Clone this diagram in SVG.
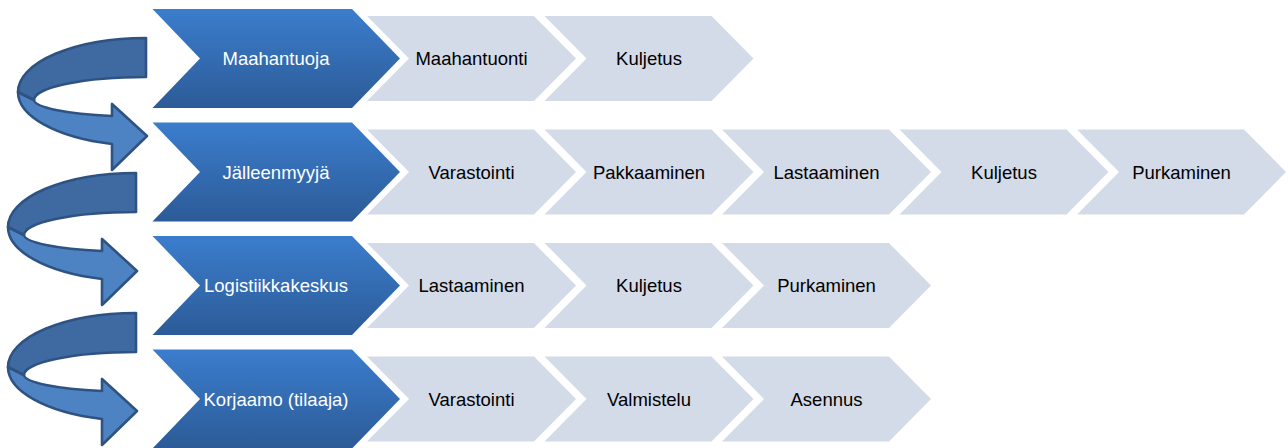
<svg xmlns="http://www.w3.org/2000/svg" width="1288" height="448" viewBox="0 0 1288 448">
<defs>
<linearGradient id="gb" x1="0" y1="0" x2="0" y2="1">
<stop offset="0" stop-color="#3b7dcd"/>
<stop offset="1" stop-color="#2c5b97"/>
</linearGradient>
<g id="uarrow">
<path class="lo" d="M18,92 A128,54 0 0 0 112,144 L112,170 L147,136 L112,104 L112,116 A112,17 0 0 1 34,100 Z"/>
<path class="up" d="M146,38 A128,54 0 0 0 18,92 L34,100 A112,23 0 0 1 146,77 Z"/>
</g>
</defs>
<style>
.main{fill:url(#gb)}
.step{fill:#d3dae8}
.tw{font-family:"Liberation Sans",Arial,sans-serif;font-size:18.5px;fill:#ffffff;text-anchor:middle}
.tb{font-family:"Liberation Sans",Arial,sans-serif;font-size:18.5px;fill:#000000;text-anchor:middle}
.lo{fill:#4d82c3;stroke:#2e5383;stroke-width:2.6;stroke-linejoin:round}
.up{fill:#3e6aa1;stroke:#2e5383;stroke-width:2.6;stroke-linejoin:round}
</style>
<rect width="1288" height="448" fill="#ffffff"/>
<g id="connectors">
<use href="#uarrow"/>
<use href="#uarrow" transform="translate(-10,135)"/>
<use href="#uarrow" transform="translate(-10,275)"/>
</g>
<g id="row1">
<g id="n-maahantuoja"><path class="main" d="M152.5,9 L352,9 L400,58.5 L352,108 L152.5,108 L200,58.5 Z"/><text class="tw" x="276" y="65">Maahantuoja</text></g>
<g id="n-r1-1"><path class="step" d="M367,16 L534,16 L576,58.5 L534,101 L367,101 L409,58.5 Z"/><text class="tb" x="471.5" y="65">Maahantuonti</text></g>
<g id="n-r1-2"><path class="step" d="M544.5,16 L711.5,16 L753.5,58.5 L711.5,101 L544.5,101 L586.5,58.5 Z"/><text class="tb" x="649" y="65">Kuljetus</text></g>
</g>
<g id="row2">
<g id="n-jalleenmyyja"><path class="main" d="M152.5,122.5 L352,122.5 L400,172 L352,221.5 L152.5,221.5 L200,172 Z"/><text class="tw" x="276" y="178.5">Jälleenmyyjä</text></g>
<g id="n-r2-1"><path class="step" d="M367,129.5 L534,129.5 L576,172 L534,214.5 L367,214.5 L409,172 Z"/><text class="tb" x="471.5" y="178.5">Varastointi</text></g>
<g id="n-r2-2"><path class="step" d="M544.5,129.5 L711.5,129.5 L753.5,172 L711.5,214.5 L544.5,214.5 L586.5,172 Z"/><text class="tb" x="649" y="178.5">Pakkaaminen</text></g>
<g id="n-r2-3"><path class="step" d="M722,129.5 L889,129.5 L931,172 L889,214.5 L722,214.5 L764,172 Z"/><text class="tb" x="826.5" y="178.5">Lastaaminen</text></g>
<g id="n-r2-4"><path class="step" d="M899.5,129.5 L1066.5,129.5 L1108.5,172 L1066.5,214.5 L899.5,214.5 L941.5,172 Z"/><text class="tb" x="1004" y="178.5">Kuljetus</text></g>
<g id="n-r2-5"><path class="step" d="M1077,129.5 L1244,129.5 L1286,172 L1244,214.5 L1077,214.5 L1119,172 Z"/><text class="tb" x="1181.5" y="178.5">Purkaminen</text></g>
</g>
<g id="row3">
<g id="n-logistiikkakeskus"><path class="main" d="M152.5,236 L352,236 L400,285.5 L352,335 L152.5,335 L200,285.5 Z"/><text class="tw" x="276" y="292">Logistiikkakeskus</text></g>
<g id="n-r3-1"><path class="step" d="M367,243 L534,243 L576,285.5 L534,328 L367,328 L409,285.5 Z"/><text class="tb" x="471.5" y="292">Lastaaminen</text></g>
<g id="n-r3-2"><path class="step" d="M544.5,243 L711.5,243 L753.5,285.5 L711.5,328 L544.5,328 L586.5,285.5 Z"/><text class="tb" x="649" y="292">Kuljetus</text></g>
<g id="n-r3-3"><path class="step" d="M722,243 L889,243 L931,285.5 L889,328 L722,328 L764,285.5 Z"/><text class="tb" x="826.5" y="292">Purkaminen</text></g>
</g>
<g id="row4">
<g id="n-korjaamo"><path class="main" d="M152.5,349.5 L352,349.5 L400,399 L352,448.5 L152.5,448.5 L200,399 Z"/><text class="tw" x="276" y="405.5">Korjaamo (tilaaja)</text></g>
<g id="n-r4-1"><path class="step" d="M367,356.5 L534,356.5 L576,399 L534,441.5 L367,441.5 L409,399 Z"/><text class="tb" x="471.5" y="405.5">Varastointi</text></g>
<g id="n-r4-2"><path class="step" d="M544.5,356.5 L711.5,356.5 L753.5,399 L711.5,441.5 L544.5,441.5 L586.5,399 Z"/><text class="tb" x="649" y="405.5">Valmistelu</text></g>
<g id="n-r4-3"><path class="step" d="M722,356.5 L889,356.5 L931,399 L889,441.5 L722,441.5 L764,399 Z"/><text class="tb" x="826.5" y="405.5">Asennus</text></g>
</g>
</svg>
